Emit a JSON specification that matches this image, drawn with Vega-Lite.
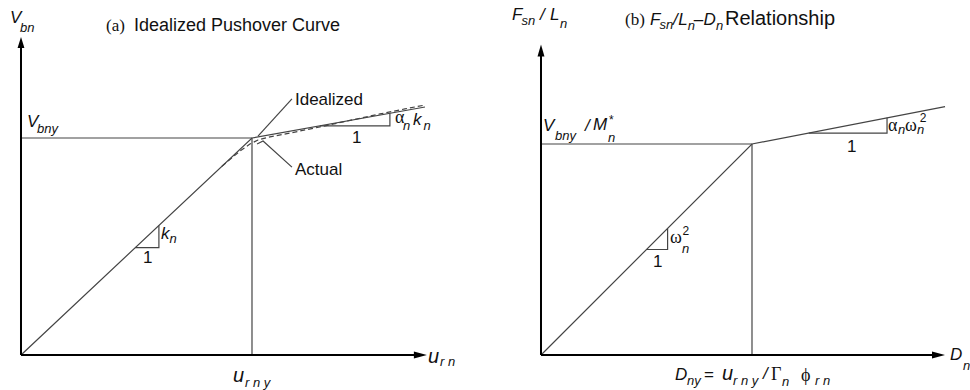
{
  "$schema": "https://vega.github.io/schema/vega-lite/v6.json",
  "padding": 0,
  "background": "white",
  "spacing": 0,
  "bounds": "flush",
  "config": {"view": {"stroke": null}},
  "datasets": {
    "a_lines": [
      {"g": "yax", "kind": "axis", "o": 0, "x": 0, "y": 0},
      {"g": "yax", "kind": "axis", "o": 1, "x": 0, "y": 1.429},
      {"g": "xax", "kind": "axis", "o": 0, "x": 0, "y": 0},
      {"g": "xax", "kind": "axis", "o": 1, "x": 1.71, "y": 0},
      {"g": "hy", "kind": "thin", "o": 0, "x": 0, "y": 1},
      {"g": "hy", "kind": "thin", "o": 1, "x": 1, "y": 1},
      {"g": "vy", "kind": "thin", "o": 0, "x": 1, "y": 0},
      {"g": "vy", "kind": "thin", "o": 1, "x": 1, "y": 1},
      {"g": "idealized", "kind": "thin", "o": 0, "x": 0, "y": 0},
      {"g": "idealized", "kind": "thin", "o": 1, "x": 1, "y": 1},
      {"g": "idealized", "kind": "thin", "o": 2, "x": 1.749, "y": 1.143},
      {"g": "tri1", "kind": "thin", "o": 0, "x": 0.495, "y": 0.495},
      {"g": "tri1", "kind": "thin", "o": 1, "x": 0.597, "y": 0.495},
      {"g": "tri1", "kind": "thin", "o": 2, "x": 0.597, "y": 0.597},
      {"g": "tri2", "kind": "thin", "o": 0, "x": 1.294, "y": 1.056},
      {"g": "tri2", "kind": "thin", "o": 1, "x": 1.597, "y": 1.056},
      {"g": "tri2", "kind": "thin", "o": 2, "x": 1.597, "y": 1.114},
      {"g": "lead1", "kind": "thin", "o": 0, "x": 1.026, "y": 1.009},
      {"g": "lead1", "kind": "thin", "o": 1, "x": 1.173, "y": 1.18},
      {"g": "lead2", "kind": "thin", "o": 0, "x": 1.022, "y": 0.972},
      {"g": "lead2", "kind": "thin", "o": 1, "x": 1.048, "y": 0.986},
      {"g": "lead2", "kind": "thin", "o": 2, "x": 1.173, "y": 0.866},
      {"g": "actual", "kind": "dash", "o": 0, "x": 0.87, "y": 0.87},
      {"g": "actual", "kind": "dash", "o": 1, "x": 0.948, "y": 0.94},
      {"g": "actual", "kind": "dash", "o": 2, "x": 0.991, "y": 0.972},
      {"g": "actual", "kind": "dash", "o": 3, "x": 1.026, "y": 0.991},
      {"g": "actual", "kind": "dash", "o": 4, "x": 1.078, "y": 1.005},
      {"g": "actual", "kind": "dash", "o": 5, "x": 1.165, "y": 1.023},
      {"g": "actual", "kind": "dash", "o": 6, "x": 1.294, "y": 1.051},
      {"g": "actual", "kind": "dash", "o": 7, "x": 1.424, "y": 1.081},
      {"g": "actual", "kind": "dash", "o": 8, "x": 1.554, "y": 1.111},
      {"g": "actual", "kind": "dash", "o": 9, "x": 1.662, "y": 1.134},
      {"g": "actual", "kind": "dash", "o": 10, "x": 1.749, "y": 1.152}
    ],
    "a_arrows": [
      {"kind": "up", "x": 0, "y": 1.44},
      {"kind": "right", "x": 1.729, "y": 0}
    ],
    "a_text": [
      {"r": "var", "t": "V", "x": -0.0476, "y": 1.53},
      {"r": "sub", "t": "bn", "x": -0.0043, "y": 1.4885},
      {"r": "paren", "t": "(a)", "x": 0.368, "y": 1.493},
      {"r": "title", "t": "Idealized Pushover Curve", "x": 0.489, "y": 1.493},
      {"r": "label", "t": "Idealized", "x": 1.186, "y": 1.154},
      {"r": "label", "t": "Actual", "x": 1.186, "y": 0.829},
      {"r": "var", "t": "V", "x": 0.026, "y": 1.051},
      {"r": "sub", "t": "bny", "x": 0.069, "y": 1.023},
      {"r": "greek", "t": "α", "x": 1.619, "y": 1.069},
      {"r": "sub", "t": "n", "x": 1.654, "y": 1.037},
      {"r": "var", "t": "k", "x": 1.697, "y": 1.06},
      {"r": "sub", "t": "n", "x": 1.742, "y": 1.037},
      {"r": "label", "t": "1", "x": 1.433, "y": 0.977},
      {"r": "var", "t": "k", "x": 0.606, "y": 0.535},
      {"r": "sub", "t": "n", "x": 0.643, "y": 0.516},
      {"r": "label", "t": "1", "x": 0.528, "y": 0.424},
      {"r": "u", "t": "u", "x": 1.762, "y": -0.037},
      {"r": "sub", "t": "r n", "x": 1.814, "y": -0.051},
      {"r": "u", "t": "u", "x": 0.918, "y": -0.124},
      {"r": "sub", "t": "r n y", "x": 0.97, "y": -0.147}
    ],
    "b_lines": [
      {"g": "yax", "kind": "axis", "o": 0, "x": 0, "y": 0},
      {"g": "yax", "kind": "axis", "o": 1, "x": 0, "y": 1.43},
      {"g": "xax", "kind": "axis", "o": 0, "x": 0, "y": 0},
      {"g": "xax", "kind": "axis", "o": 1, "x": 1.863, "y": 0},
      {"g": "hy", "kind": "thin", "o": 0, "x": 0, "y": 1},
      {"g": "hy", "kind": "thin", "o": 1, "x": 1, "y": 1},
      {"g": "vy", "kind": "thin", "o": 0, "x": 1, "y": 0},
      {"g": "vy", "kind": "thin", "o": 1, "x": 1, "y": 1},
      {"g": "curve", "kind": "thin", "o": 0, "x": 0, "y": 0},
      {"g": "curve", "kind": "thin", "o": 1, "x": 1, "y": 1},
      {"g": "curve", "kind": "thin", "o": 2, "x": 1.915, "y": 1.177},
      {"g": "tri1", "kind": "thin", "o": 0, "x": 0.5, "y": 0.5},
      {"g": "tri1", "kind": "thin", "o": 1, "x": 0.6, "y": 0.5},
      {"g": "tri1", "kind": "thin", "o": 2, "x": 0.6, "y": 0.6},
      {"g": "tri2", "kind": "thin", "o": 0, "x": 1.269, "y": 1.052},
      {"g": "tri2", "kind": "thin", "o": 1, "x": 1.64, "y": 1.052},
      {"g": "tri2", "kind": "thin", "o": 2, "x": 1.64, "y": 1.124}
    ],
    "b_arrows": [
      {"kind": "up", "x": 0, "y": 1.443},
      {"kind": "right", "x": 1.884, "y": 0}
    ],
    "b_text": [
      {"r": "var", "t": "F", "x": -0.137, "y": 1.588},
      {"r": "sub", "t": "sn", "x": -0.0925, "y": 1.564},
      {"r": "var", "t": "/", "x": -0.0047, "y": 1.588},
      {"r": "var", "t": "L", "x": 0.0427, "y": 1.588},
      {"r": "sub", "t": "n", "x": 0.09, "y": 1.55},
      {"r": "paren", "t": "(b)", "x": 0.398, "y": 1.564},
      {"r": "var", "t": "F", "x": 0.517, "y": 1.564},
      {"r": "sub", "t": "sn", "x": 0.562, "y": 1.545},
      {"r": "var", "t": "/", "x": 0.626, "y": 1.564},
      {"r": "var", "t": "L", "x": 0.651, "y": 1.564},
      {"r": "sub", "t": "n", "x": 0.695, "y": 1.54},
      {"r": "label", "t": "–", "x": 0.724, "y": 1.564},
      {"r": "var", "t": "D", "x": 0.77, "y": 1.564},
      {"r": "sub", "t": "n", "x": 0.829, "y": 1.54},
      {"r": "title2", "t": "Relationship", "x": 0.872, "y": 1.564},
      {"r": "var", "t": "V", "x": 0.0095, "y": 1.062},
      {"r": "sub", "t": "bny", "x": 0.066, "y": 1.019},
      {"r": "var", "t": "/", "x": 0.2085, "y": 1.062},
      {"r": "var", "t": "M", "x": 0.246, "y": 1.066},
      {"r": "sup", "t": "*", "x": 0.322, "y": 1.095},
      {"r": "sub", "t": "n", "x": 0.3175, "y": 1.009},
      {"r": "greek", "t": "α", "x": 1.645, "y": 1.062},
      {"r": "sub", "t": "n", "x": 1.692, "y": 1.047},
      {"r": "greek", "t": "ω", "x": 1.725, "y": 1.062},
      {"r": "sup", "t": "2", "x": 1.795, "y": 1.104},
      {"r": "sub", "t": "n", "x": 1.782, "y": 1.047},
      {"r": "label", "t": "1", "x": 1.45, "y": 0.962},
      {"r": "greek", "t": "ω", "x": 0.611, "y": 0.531},
      {"r": "sup", "t": "2", "x": 0.671, "y": 0.569},
      {"r": "sub", "t": "n", "x": 0.668, "y": 0.483},
      {"r": "label", "t": "1", "x": 0.531, "y": 0.417},
      {"r": "var", "t": "D", "x": 1.938, "y": -0.024},
      {"r": "sub", "t": "n", "x": 2.0, "y": -0.071},
      {"r": "var", "t": "D", "x": 0.635, "y": -0.118},
      {"r": "sub", "t": "ny", "x": 0.692, "y": -0.142},
      {"r": "label", "t": "=", "x": 0.7725, "y": -0.118},
      {"r": "u", "t": "u", "x": 0.858, "y": -0.118},
      {"r": "sub", "t": "r n y", "x": 0.91, "y": -0.142},
      {"r": "var", "t": "/", "x": 1.052, "y": -0.114},
      {"r": "greek", "t": "Γ", "x": 1.09, "y": -0.118},
      {"r": "sub", "t": "n", "x": 1.142, "y": -0.147},
      {"r": "greek", "t": "ϕ", "x": 1.232, "y": -0.123},
      {"r": "sub", "t": "r n", "x": 1.2986, "y": -0.142}
    ]
  },
  "hconcat": [
    {
      "width": 485,
      "height": 390,
      "encoding": {
        "x": {"field": "x", "type": "quantitative", "scale": {"domain": [-0.0909, 2.0087], "nice": false, "zero": false}, "axis": null},
        "y": {"field": "y", "type": "quantitative", "scale": {"domain": [-0.1613, 1.636], "nice": false, "zero": false}, "axis": null}
      },
      "layer": [
        {"data": {"name": "a_lines"}, "transform": [{"filter": "datum.kind === 'thin'"}], "mark": {"type": "line", "color": "#444", "strokeWidth": 1.2}, "encoding": {"detail": {"field": "g"}, "order": {"field": "o"}}},
        {"data": {"name": "a_lines"}, "transform": [{"filter": "datum.kind === 'dash'"}], "mark": {"type": "line", "color": "#444", "strokeWidth": 1.2, "strokeDash": [5, 3]}, "encoding": {"detail": {"field": "g"}, "order": {"field": "o"}}},
        {"data": {"name": "a_lines"}, "transform": [{"filter": "datum.kind === 'axis'"}], "mark": {"type": "line", "color": "#000", "strokeWidth": 2}, "encoding": {"detail": {"field": "g"}, "order": {"field": "o"}}},
        {"data": {"name": "a_arrows"}, "transform": [{"filter": "datum.kind === 'up'"}], "mark": {"type": "point", "filled": true, "color": "#000", "opacity": 1, "size": 121, "shape": "M0,-1L0.62,1L-0.62,1Z"}},
        {"data": {"name": "a_arrows"}, "transform": [{"filter": "datum.kind === 'right'"}], "mark": {"type": "point", "filled": true, "color": "#000", "opacity": 1, "size": 169, "shape": "M1,0L-1,-0.55L-1,0.55Z"}},
        {"data": {"name": "a_text"}, "transform": [{"filter": "datum.r === 'var'"}], "mark": {"type": "text", "align": "left", "baseline": "alphabetic", "font": "Liberation Sans", "fontStyle": "italic", "fontSize": 17, "color": "#111"}, "encoding": {"text": {"field": "t"}}},
        {"data": {"name": "a_text"}, "transform": [{"filter": "datum.r === 'u'"}], "mark": {"type": "text", "align": "left", "baseline": "alphabetic", "font": "Liberation Sans", "fontStyle": "italic", "fontSize": 20, "color": "#111"}, "encoding": {"text": {"field": "t"}}},
        {"data": {"name": "a_text"}, "transform": [{"filter": "datum.r === 'sub'"}], "mark": {"type": "text", "align": "left", "baseline": "alphabetic", "font": "Liberation Sans", "fontStyle": "italic", "fontSize": 13, "color": "#111"}, "encoding": {"text": {"field": "t"}}},
        {"data": {"name": "a_text"}, "transform": [{"filter": "datum.r === 'label'"}], "mark": {"type": "text", "align": "left", "baseline": "alphabetic", "font": "Liberation Sans", "fontSize": 17, "color": "#111"}, "encoding": {"text": {"field": "t"}}},
        {"data": {"name": "a_text"}, "transform": [{"filter": "datum.r === 'title'"}], "mark": {"type": "text", "align": "left", "baseline": "alphabetic", "font": "Liberation Sans", "fontSize": 18, "color": "#111"}, "encoding": {"text": {"field": "t"}}},
        {"data": {"name": "a_text"}, "transform": [{"filter": "datum.r === 'paren'"}], "mark": {"type": "text", "align": "left", "baseline": "alphabetic", "font": "Liberation Serif", "fontSize": 17, "color": "#111"}, "encoding": {"text": {"field": "t"}}},
        {"data": {"name": "a_text"}, "transform": [{"filter": "datum.r === 'greek'"}], "mark": {"type": "text", "align": "left", "baseline": "alphabetic", "font": "Liberation Serif", "fontSize": 18, "color": "#111"}, "encoding": {"text": {"field": "t"}}}
      ]
    },
    {
      "width": 485,
      "height": 390,
      "encoding": {
        "x": {"field": "x", "type": "quantitative", "scale": {"domain": [-0.2654, 2.0332], "nice": false, "zero": false}, "axis": null},
        "y": {"field": "y", "type": "quantitative", "scale": {"domain": [-0.1659, 1.6825], "nice": false, "zero": false}, "axis": null}
      },
      "layer": [
        {"data": {"name": "b_lines"}, "transform": [{"filter": "datum.kind === 'thin'"}], "mark": {"type": "line", "color": "#444", "strokeWidth": 1.2}, "encoding": {"detail": {"field": "g"}, "order": {"field": "o"}}},
        {"data": {"name": "b_lines"}, "transform": [{"filter": "datum.kind === 'axis'"}], "mark": {"type": "line", "color": "#000", "strokeWidth": 2}, "encoding": {"detail": {"field": "g"}, "order": {"field": "o"}}},
        {"data": {"name": "b_arrows"}, "transform": [{"filter": "datum.kind === 'up'"}], "mark": {"type": "point", "filled": true, "color": "#000", "opacity": 1, "size": 144, "shape": "M0,-1L0.58,1L-0.58,1Z"}},
        {"data": {"name": "b_arrows"}, "transform": [{"filter": "datum.kind === 'right'"}], "mark": {"type": "point", "filled": true, "color": "#000", "opacity": 1, "size": 169, "shape": "M1,0L-1,-0.55L-1,0.55Z"}},
        {"data": {"name": "b_text"}, "transform": [{"filter": "datum.r === 'var'"}], "mark": {"type": "text", "align": "left", "baseline": "alphabetic", "font": "Liberation Sans", "fontStyle": "italic", "fontSize": 17, "color": "#111"}, "encoding": {"text": {"field": "t"}}},
        {"data": {"name": "b_text"}, "transform": [{"filter": "datum.r === 'u'"}], "mark": {"type": "text", "align": "left", "baseline": "alphabetic", "font": "Liberation Sans", "fontStyle": "italic", "fontSize": 20, "color": "#111"}, "encoding": {"text": {"field": "t"}}},
        {"data": {"name": "b_text"}, "transform": [{"filter": "datum.r === 'sub'"}], "mark": {"type": "text", "align": "left", "baseline": "alphabetic", "font": "Liberation Sans", "fontStyle": "italic", "fontSize": 13, "color": "#111"}, "encoding": {"text": {"field": "t"}}},
        {"data": {"name": "b_text"}, "transform": [{"filter": "datum.r === 'sup'"}], "mark": {"type": "text", "align": "left", "baseline": "alphabetic", "font": "Liberation Sans", "fontSize": 12, "color": "#111"}, "encoding": {"text": {"field": "t"}}},
        {"data": {"name": "b_text"}, "transform": [{"filter": "datum.r === 'label'"}], "mark": {"type": "text", "align": "left", "baseline": "alphabetic", "font": "Liberation Sans", "fontSize": 17, "color": "#111"}, "encoding": {"text": {"field": "t"}}},
        {"data": {"name": "b_text"}, "transform": [{"filter": "datum.r === 'title2'"}], "mark": {"type": "text", "align": "left", "baseline": "alphabetic", "font": "Liberation Sans", "fontSize": 20, "color": "#111"}, "encoding": {"text": {"field": "t"}}},
        {"data": {"name": "b_text"}, "transform": [{"filter": "datum.r === 'paren'"}], "mark": {"type": "text", "align": "left", "baseline": "alphabetic", "font": "Liberation Serif", "fontSize": 17, "color": "#111"}, "encoding": {"text": {"field": "t"}}},
        {"data": {"name": "b_text"}, "transform": [{"filter": "datum.r === 'greek'"}], "mark": {"type": "text", "align": "left", "baseline": "alphabetic", "font": "Liberation Serif", "fontSize": 18, "color": "#111"}, "encoding": {"text": {"field": "t"}}}
      ]
    }
  ]
}
